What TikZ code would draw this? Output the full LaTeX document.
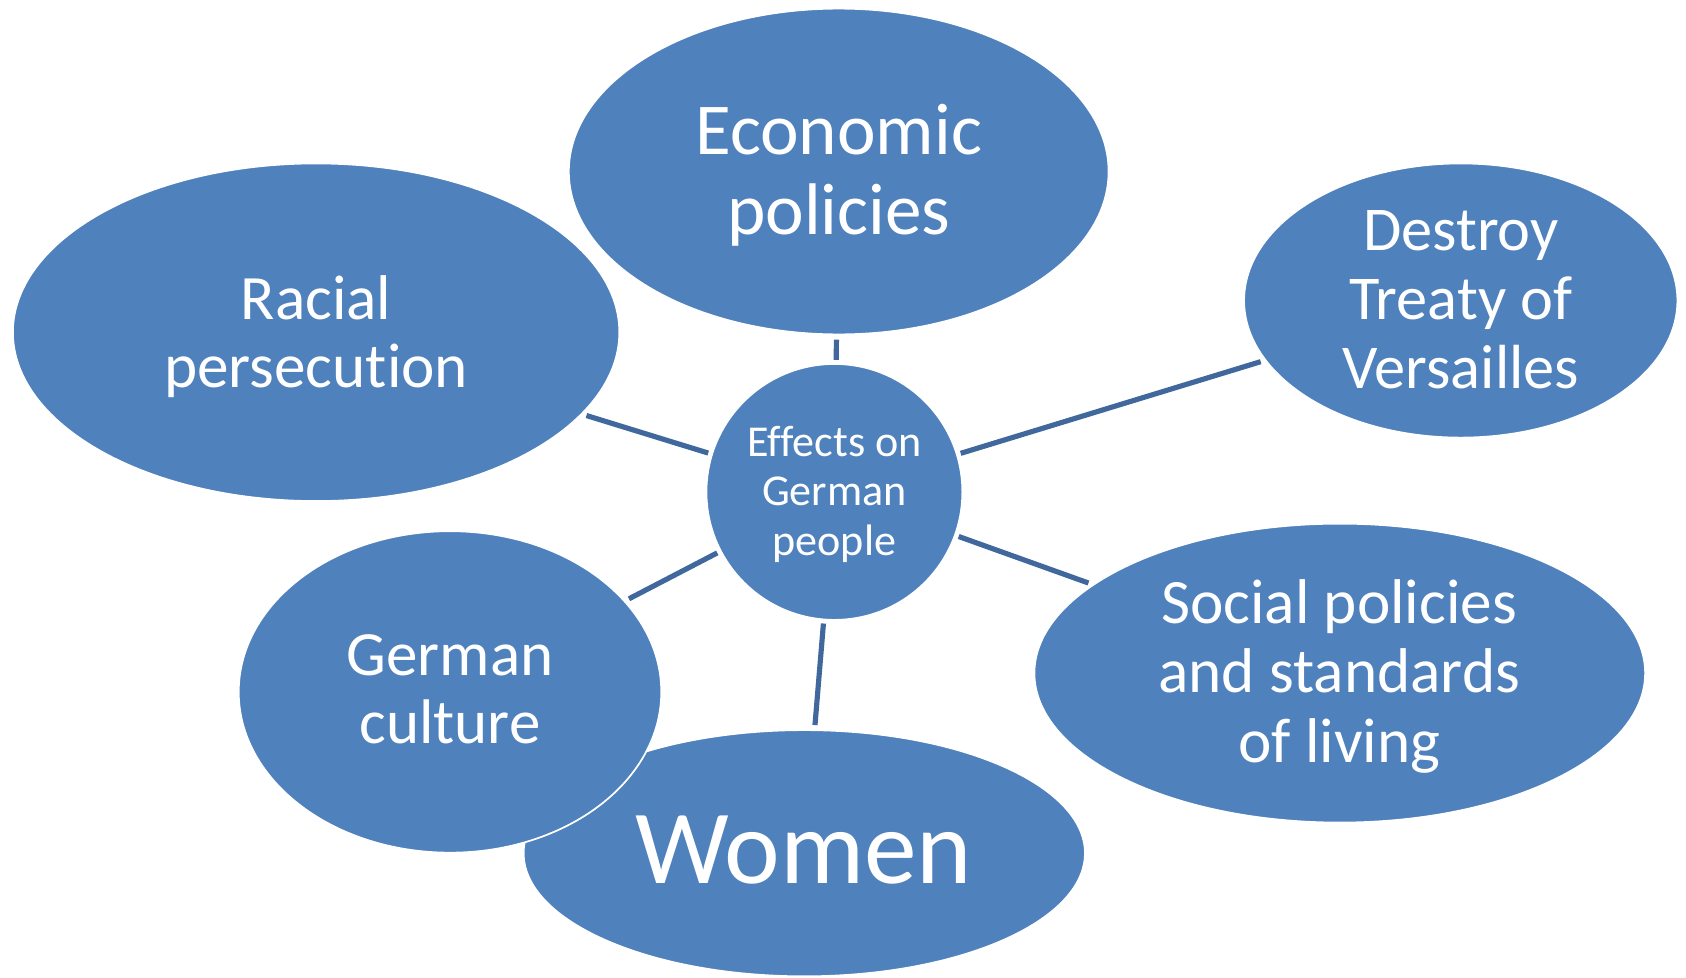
\documentclass[tikz,border=0pt]{standalone}
\usepackage{fontspec}
\setmainfont[RawFeature={-liga;-clig;-dlig;-calt}]{Carlito}
\usetikzlibrary{shapes.geometric}
\definecolor{blobfill}{HTML}{4F81BD}
\definecolor{linkcol}{RGB}{64,104,156}
\begin{document}
\begin{tikzpicture}[x=0.5pt,y=-0.5pt,
  blob/.style={ellipse, fill=blobfill, draw=white, line width=0.8pt, inner sep=0pt},
  lbl/.style={text=white, align=center, inner sep=0pt},
  link/.style={draw=linkcol, line width=2.4pt, shorten <=1.5pt, shorten >=2pt}]
\useasboundingbox (0,0) rectangle (1568,909);
% shapes
\node[blob, minimum width=251pt, minimum height=151.5pt] (eco) at (780,159.5) {};
\node[blob, minimum width=282pt, minimum height=157pt] (rac) at (294,309) {};
\node[blob, minimum width=201.5pt, minimum height=127.5pt] (des) at (1358.5,279.5) {};
\node[blob, minimum width=284pt, minimum height=139pt] (soc) at (1246,626) {};
\node[blob, minimum width=261pt, minimum height=114.5pt] (wom) at (748,793.5) {};
\node[blob, minimum width=196.5pt, minimum height=149.5pt] (cul) at (418.5,643.5) {};
\node[blob, circle, minimum size=119pt] (hub) at (776,457.5) {};
% labels
\node[lbl, font=\fontsize{34}{37.5}\selectfont] (ecoT) at (780,163) {Economic\\policies};
\node[lbl, font=\fontsize{29.4}{31.5}\selectfont] (racT) at (294,313) {Racial\\persecut\kern0pt ion};
\node[lbl, font=\fontsize{29}{32}\selectfont] (desT) at (1358.5,279) {Destroy\\Treaty of\\Versailles};
\node[lbl, font=\fontsize{29.4}{32.3}\selectfont] (socT) at (1245.5,629) {Social policies\\and standards\\of living};
\node[lbl, font=\fontsize{29.3}{32}\selectfont] (culT) at (418.5,641) {German\\culture};
\node[lbl, font=\fontsize{49}{52}\selectfont] (womT) at (747.5,791) {Women};
\node[lbl, font=\fontsize{20.5}{23}\selectfont] (hubT) at (776,459.6) {Effects on\\German\\people};
% connectors
\draw[link] (hub) -- (eco);
\draw[link] (hub) -- (rac);
\draw[link] (hub) -- (des);
\draw[link] (hub) -- (soc);
\draw[link] (hub) -- (cul);
\draw[link] (hub) -- (wom);
\end{tikzpicture}
\end{document}
